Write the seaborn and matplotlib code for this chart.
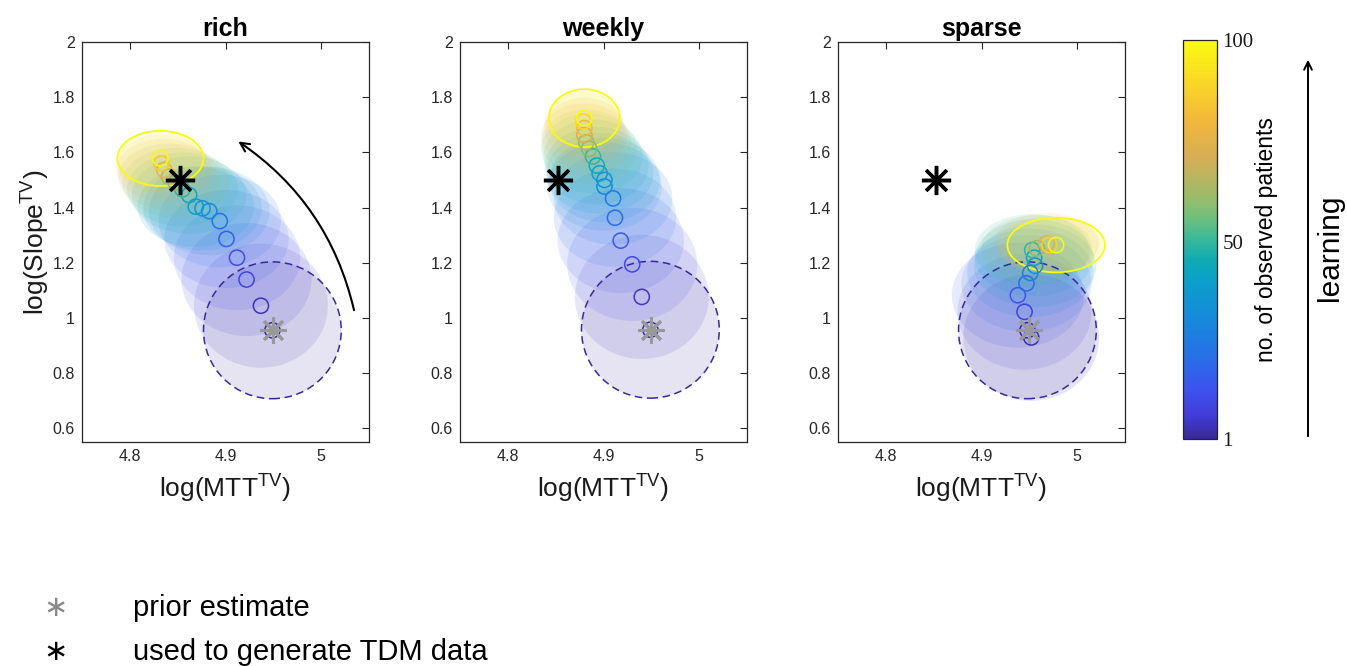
import matplotlib
matplotlib.use('Agg')
import matplotlib.pyplot as plt
import seaborn as sns
import pandas as pd
from matplotlib.patches import Ellipse, FancyArrowPatch
from matplotlib.colors import LinearSegmentedColormap, Normalize
from matplotlib.colorbar import ColorbarBase

# ---- data ----
panels = ['rich', 'weekly', 'sparse']

rich_n = [1, 4, 8, 12, 17, 22, 30, 35, 40, 45, 50, 58, 66, 75, 85, 100]
rich_x = [4.949, 4.937, 4.922, 4.912, 4.901, 4.894, 4.883, 4.876, 4.869, 4.862, 4.855, 4.848, 4.841, 4.836, 4.833, 4.832]
rich_y = [0.955, 1.044, 1.139, 1.218, 1.286, 1.351, 1.387, 1.397, 1.403, 1.445, 1.466, 1.490, 1.512, 1.536, 1.560, 1.578]
rich_rx = [0.072, 0.070, 0.068, 0.066, 0.065, 0.064, 0.063, 0.062, 0.061, 0.060, 0.058, 0.056, 0.053, 0.050, 0.047, 0.045]
rich_ry = [0.248, 0.225, 0.205, 0.190, 0.178, 0.168, 0.160, 0.153, 0.146, 0.140, 0.134, 0.127, 0.120, 0.113, 0.106, 0.100]

weekly_n = [1, 5, 10, 15, 20, 25, 30, 35, 40, 45, 50, 57, 64, 72, 80, 90, 100]
weekly_x = [4.949, 4.940, 4.930, 4.918, 4.912, 4.910, 4.901, 4.901, 4.896, 4.893, 4.889, 4.885, 4.882, 4.880, 4.880, 4.879, 4.880]
weekly_y = [0.957, 1.076, 1.194, 1.280, 1.363, 1.433, 1.476, 1.500, 1.524, 1.552, 1.585, 1.613, 1.636, 1.663, 1.688, 1.712, 1.724]
weekly_rx = [0.072, 0.070, 0.068, 0.066, 0.064, 0.062, 0.060, 0.058, 0.056, 0.054, 0.052, 0.050, 0.047, 0.045, 0.042, 0.040, 0.037]
weekly_ry = [0.248, 0.225, 0.205, 0.190, 0.178, 0.168, 0.160, 0.153, 0.146, 0.140, 0.134, 0.127, 0.120, 0.115, 0.110, 0.107, 0.105]

sparse_n = [1, 3, 8, 14, 20, 27, 34, 42, 50, 60, 75, 88, 100]
sparse_x = [4.948, 4.952, 4.945, 4.938, 4.947, 4.951, 4.956, 4.955, 4.953, 4.958, 4.968, 4.971, 4.978]
sparse_y = [0.955, 0.929, 1.022, 1.082, 1.125, 1.163, 1.189, 1.218, 1.246, 1.252, 1.270, 1.264, 1.264]
sparse_rx = [0.072, 0.071, 0.070, 0.069, 0.068, 0.066, 0.064, 0.062, 0.060, 0.058, 0.055, 0.053, 0.051]
sparse_ry = [0.248, 0.230, 0.210, 0.190, 0.175, 0.160, 0.150, 0.140, 0.130, 0.120, 0.110, 0.104, 0.099]

prior_est = (4.95, 0.955)
true_val = (4.852, 1.5)

x_ticks = [4.8, 4.9, 5.0]
x_ticklabels = ['4.8', '4.9', '5']
y_ticks = [0.6, 0.8, 1.0, 1.2, 1.4, 1.6, 1.8, 2.0]
y_ticklabels = ['0.6', '0.8', '1', '1.2', '1.4', '1.6', '1.8', '2']
cbar_ticks = [1, 50, 100]

# learning arrow on the first panel
arrow_start = (5.035, 1.018)
arrow_end = (4.911, 1.645)

# parula-like colormap
parula = LinearSegmentedColormap.from_list('parula', [
    (0.00, (0.22, 0.16, 0.60)),
    (0.06, (0.26, 0.24, 0.86)),
    (0.12, (0.24, 0.32, 0.93)),
    (0.20, (0.16, 0.43, 0.91)),
    (0.30, (0.09, 0.54, 0.86)),
    (0.40, (0.04, 0.63, 0.79)),
    (0.45, (0.06, 0.67, 0.70)),
    (0.50, (0.22, 0.72, 0.60)),
    (0.55, (0.42, 0.75, 0.50)),
    (0.60, (0.59, 0.74, 0.42)),
    (0.70, (0.83, 0.68, 0.34)),
    (0.80, (0.95, 0.72, 0.23)),
    (0.90, (0.98, 0.85, 0.15)),
    (1.00, (0.98, 0.98, 0.06)),
])
norm = Normalize(1, 100)

sns.set_style('white')
plt.rcParams['font.family'] = ['Liberation Sans', 'DejaVu Sans']
plt.rcParams['mathtext.fontset'] = 'custom'
plt.rcParams['mathtext.rm'] = 'Liberation Sans'
plt.rcParams['text.color'] = 'black'
plt.rcParams['axes.labelcolor'] = '#1a1a1a'

fig = plt.figure(figsize=(13.47, 6.66), dpi=100)
W, H = 1347, 666
ax_lefts = [82, 460, 838]

data = {
    'rich': (rich_n, rich_x, rich_y, rich_rx, rich_ry),
    'weekly': (weekly_n, weekly_x, weekly_y, weekly_rx, weekly_ry),
    'sparse': (sparse_n, sparse_x, sparse_y, sparse_rx, sparse_ry),
}

axes = []
for name, left in zip(panels, ax_lefts):
    ax = fig.add_axes([left / W, 1 - 442 / H, 287 / W, 400 / H])
    axes.append(ax)
    n, xs, ys, rxs, rys = data[name]
    df = pd.DataFrame({'n': n, 'x': xs, 'y': ys, 'rx': rxs, 'ry': rys})

    # uncertainty clouds
    for i, row in df.iterrows():
        col = parula(norm(row['n']))
        ax.add_patch(Ellipse((row['x'], row['y']), 2 * row['rx'], 2 * row['ry'],
                             facecolor=col, edgecolor='none', alpha=0.12, zorder=1))
    first = df.iloc[0]
    last = df.iloc[-1]
    ax.add_patch(Ellipse((first['x'], first['y']), 2 * first['rx'], 2 * first['ry'],
                         facecolor='none', edgecolor=parula(0.0), lw=1.1,
                         linestyle=(0, (5, 3)), zorder=3))
    ax.add_patch(Ellipse((last['x'], last['y']), 2 * last['rx'], 2 * last['ry'],
                         facecolor='none', edgecolor=parula(1.0), lw=1.3, zorder=3))

    # posterior means
    sns.scatterplot(data=df, x='x', y='y', hue='n', palette=parula, hue_norm=norm,
                    s=120, marker='o', linewidth=1.1, legend=False, ax=ax, zorder=4)
    pc = ax.collections[-1]
    fc = pc.get_facecolors()
    pc.set_edgecolors(fc)
    pc.set_facecolors('none')

    ax.plot(*prior_est, marker=(8, 2, 0), ms=19, mew=2.2, color='#999999', zorder=5)
    ax.plot(*true_val, marker=(8, 2, 0), ms=21, mew=2.5, color='black', zorder=5)

    ax.set_xlim(4.75, 5.05)
    ax.set_ylim(0.55, 2.0)
    ax.set_xticks(x_ticks)
    ax.set_xticklabels(x_ticklabels)
    ax.set_yticks(y_ticks)
    ax.set_yticklabels(y_ticklabels)
    ax.tick_params(direction='in', length=5, width=0.8, top=True, right=True,
                   labelsize=11.5, colors='#262626', pad=5)
    for sp in ax.spines.values():
        sp.set_color('#262626')
        sp.set_linewidth(0.9)
    ax.set_title(name, fontsize=18, fontweight='bold', pad=4, color='black')
    ax.set_xlabel(r'log(MTT$^{\mathrm{TV}}$)', fontsize=19, labelpad=5)
    ax.set_ylabel('')

axes[0].set_ylabel(r'log(Slope$^{\mathrm{TV}}$)', fontsize=19, labelpad=1)
axes[0].add_patch(FancyArrowPatch(arrow_start, arrow_end, connectionstyle='arc3,rad=0.2',
                                  arrowstyle='->', mutation_scale=16, lw=1.5,
                                  color='black', zorder=6))

# colorbar
cax = fig.add_axes([1183 / W, 1 - 439 / H, 34 / W, 399 / H])
cb = ColorbarBase(cax, cmap=parula, norm=norm, ticks=cbar_ticks)
cb.outline.set_edgecolor('#262626')
cb.outline.set_linewidth(0.9)
cax.tick_params(length=0, labelsize=15, pad=4, colors='#1a1a1a')
for lab in cax.get_yticklabels():
    lab.set_family('Liberation Serif')

fig.text(1267 / W, 1 - 240 / H, 'no. of observed patients', rotation=90,
         ha='center', va='center', fontsize=16.5)
fig.add_artist(FancyArrowPatch((1308 / W, 1 - 439 / H), (1308 / W, 1 - 57 / H),
                               transform=fig.transFigure, arrowstyle='->',
                               mutation_scale=14, lw=1.4, color='black'))
fig.text(1330 / W, 1 - 248 / H, 'learning', rotation=90, ha='center', va='center',
         fontsize=21.5)

# bottom key
fig.text(55 / W, 1 - 608 / H, '\u2217', color='#888888', fontsize=21,
         ha='center', va='center')
fig.text(133 / W, 1 - 608 / H, 'prior estimate', fontsize=21, ha='left', va='center')
fig.text(55 / W, 1 - 652 / H, '\u2217', color='black', fontsize=21,
         ha='center', va='center')
fig.text(133 / W, 1 - 652 / H, 'used to generate TDM data', fontsize=21,
         ha='left', va='center')

fig.savefig('out.png', dpi=100)
